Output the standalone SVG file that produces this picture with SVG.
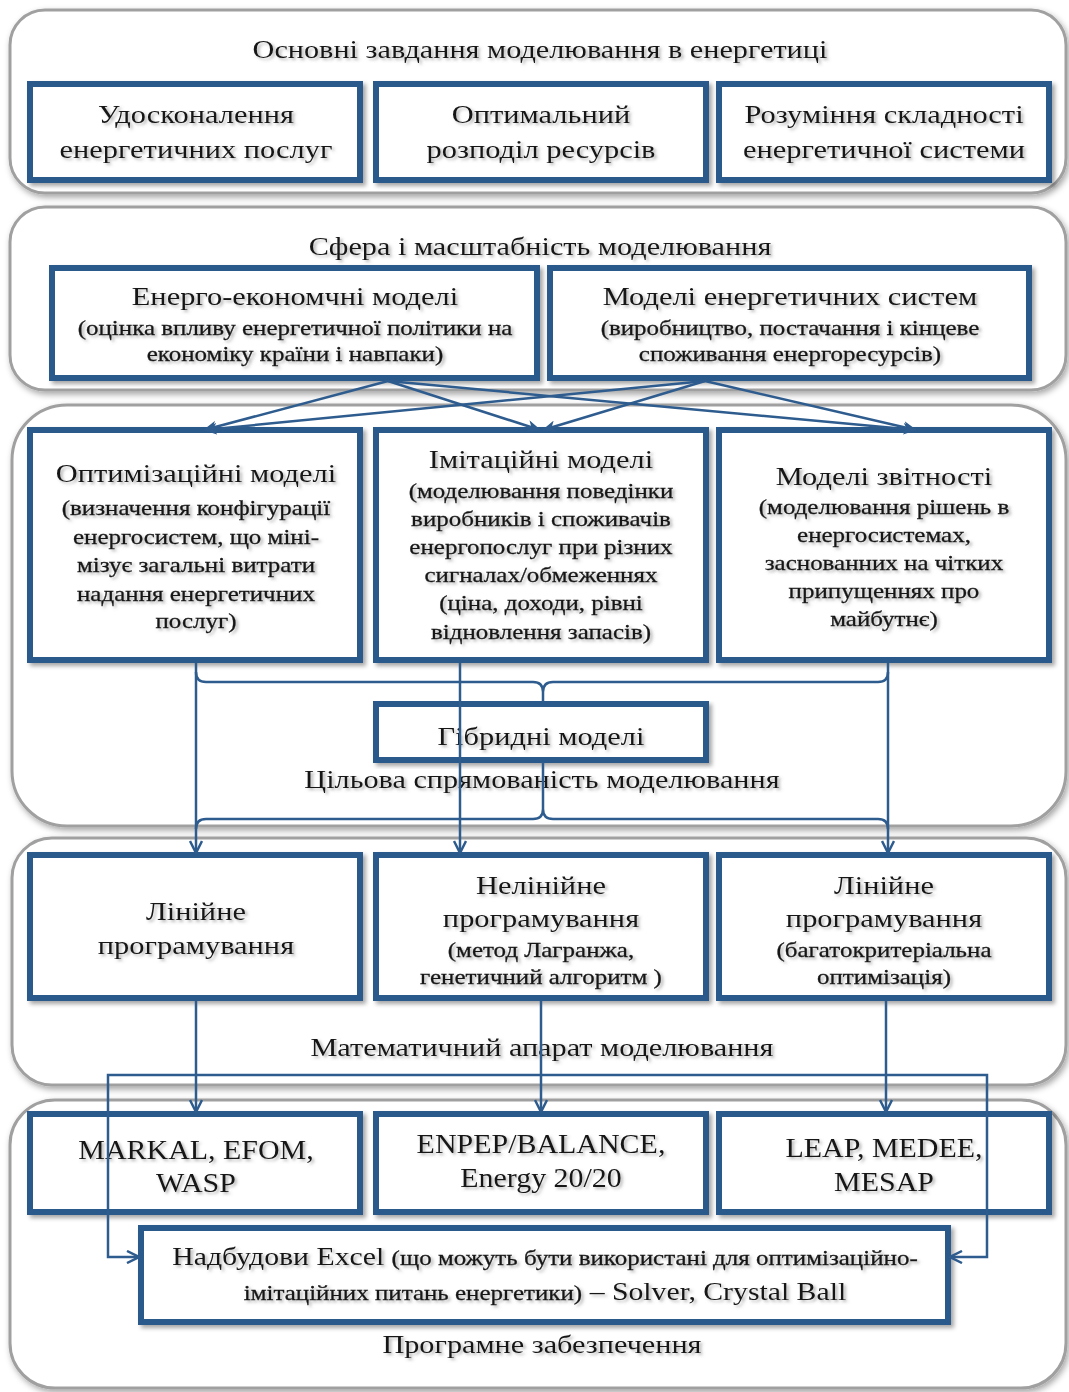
<svg xmlns="http://www.w3.org/2000/svg" width="1069" height="1392" viewBox="0 0 1069 1392">
<defs>
<filter id="psh" x="-5%" y="-5%" width="110%" height="115%"><feDropShadow dx="2" dy="3" stdDeviation="3" flood-color="#000" flood-opacity="0.35"/></filter>
<filter id="bsh" x="-5%" y="-5%" width="115%" height="120%"><feDropShadow dx="3" dy="3" stdDeviation="2" flood-color="#000" flood-opacity="0.35"/></filter>
<filter id="tsh" x="-5%" y="-30%" width="110%" height="160%"><feDropShadow dx="2" dy="2" stdDeviation="1.5" flood-color="#666" flood-opacity="0.5"/></filter>
<marker id="af" viewBox="0 0 14 12" refX="13" refY="6" markerWidth="14" markerHeight="12" markerUnits="userSpaceOnUse" orient="auto"><path d="M0,0 L14,6 L0,12 L4,6 z" fill="#2e5c8e"/></marker>
<marker id="ao" viewBox="0 0 14 14" refX="13" refY="7" markerWidth="14" markerHeight="14" markerUnits="userSpaceOnUse" orient="auto"><path d="M1,1 L13,7 L1,13" fill="none" stroke="#2e5c8e" stroke-width="2.5"/></marker>
</defs>
<style>
.panel{fill:#fff;stroke:#a0a0a0;stroke-width:3;filter:url(#psh)}
.box{fill:#fff;stroke:#2b5a8b;stroke-width:6;filter:url(#bsh)}
text{font-family:"Liberation Serif","Times New Roman",serif;fill:#151515;text-anchor:middle;filter:url(#tsh);transform-box:fill-box;transform-origin:center}
.h{font-size:26px;transform:scaleX(1.17)}
.s{font-size:21px;stroke:#151515;stroke-width:0.3;transform:scaleX(1.19)}
.p{font-size:28px;transform:scaleX(1.07)}
.t{font-size:25px;transform:scaleX(1.21)}
.x{transform:scaleX(1.19)}
.x .hs{font-size:25px}
.x .ss{font-size:21px;stroke:#151515;stroke-width:0.3}
.c{fill:none;stroke:#2e5c8e;stroke-width:2.5}
</style>
<rect width="1069" height="1392" fill="#fff"/>

<g id="panels">
<rect id="panel1" class="panel" x="10" y="10" width="1056" height="183" rx="35"/>
<rect id="panel2" class="panel" x="10" y="207" width="1056" height="183" rx="35"/>
<rect id="panel3" class="panel" x="12" y="405" width="1054" height="421" rx="55"/>
<rect id="panel4" class="panel" x="12" y="838" width="1054" height="247" rx="40"/>
<rect id="panel5" class="panel" x="10" y="1100" width="1056" height="288" rx="45"/>
</g>

<g id="titles">
<text class="t" x="540" y="58">Основні завдання моделювання в енергетиці</text>
<text class="t" x="540" y="255">Сфера і масштабність моделювання</text>
<text class="t" x="542" y="788">Цільова спрямованість моделювання</text>
<text class="t" x="542" y="1056">Математичний апарат моделювання</text>
<text class="t" x="542" y="1353">Програмне забезпечення</text>
</g>

<g id="node-a"><rect class="box" x="30" y="84" width="330" height="96"/>
<text class="h" x="196" y="123">Удосконалення</text><text class="h" x="196" y="158">енергетичних послуг</text></g>
<g id="node-b"><rect class="box" x="376" y="84" width="330" height="96"/>
<text class="h" x="541" y="123">Оптимальний</text><text class="h" x="541" y="158">розподіл ресурсів</text></g>
<g id="node-c"><rect class="box" x="719" y="84" width="330" height="96"/>
<text class="h" x="884" y="123">Розуміння складності</text><text class="h" x="884" y="158">енергетичної системи</text></g>

<g id="node-d"><rect class="box" x="52" y="268" width="485" height="110"/>
<text class="h" x="295" y="305">Енерго-економчні моделі</text>
<text class="s" x="295" y="335">(оцінка впливу енергетичної політики на</text>
<text class="s" x="295" y="361">економіку країни і навпаки)</text></g>
<g id="node-e"><rect class="box" x="550" y="268" width="479" height="110"/>
<text class="h" x="790" y="305">Моделі енергетичних систем</text>
<text class="s" x="790" y="335">(виробництво, постачання і кінцеве</text>
<text class="s" x="790" y="361">споживання енергоресурсів)</text></g>

<g id="node-f"><rect class="box" x="30" y="430" width="330" height="230"/>
<text class="h" x="196" y="482">Оптимізаційні моделі</text>
<text class="s" x="196" y="515">(визначення конфігурації</text>
<text class="s" x="196" y="544">енергосистем, що міні-</text>
<text class="s" x="196" y="572">мізує загальні витрати</text>
<text class="s" x="196" y="601">надання енергетичних</text>
<text class="s" x="196" y="628">послуг)</text></g>
<g id="node-g"><rect class="box" x="376" y="430" width="330" height="230"/>
<text class="h" x="541" y="468">Імітаційні моделі</text>
<text class="s" x="541" y="498">(моделювання поведінки</text>
<text class="s" x="541" y="526">виробників і споживачів</text>
<text class="s" x="541" y="554">енергопослуг при різних</text>
<text class="s" x="541" y="582">сигналах/обмеженнях</text>
<text class="s" x="541" y="610">(ціна, доходи, рівні</text>
<text class="s" x="541" y="639">відновлення запасів)</text></g>
<g id="node-h"><rect class="box" x="719" y="430" width="330" height="230"/>
<text class="h" x="884" y="485">Моделі звітності</text>
<text class="s" x="884" y="514">(моделювання рішень в</text>
<text class="s" x="884" y="542">енергосистемах,</text>
<text class="s" x="884" y="570">заснованних на чітких</text>
<text class="s" x="884" y="598">припущеннях про</text>
<text class="s" x="884" y="626">майбутнє)</text></g>

<g id="node-hybrid"><rect class="box" x="376" y="704" width="330" height="56"/>
<text class="h" x="541" y="745">Гібридні моделі</text></g>

<g id="node-i"><rect class="box" x="30" y="855" width="330" height="143"/>
<text class="h" x="196" y="920">Лінійне</text><text class="h" x="196" y="954">програмування</text></g>
<g id="node-j"><rect class="box" x="376" y="855" width="330" height="143"/>
<text class="h" x="541" y="894">Нелінійне</text><text class="h" x="541" y="927">програмування</text>
<text class="s" x="541" y="957">(метод Лагранжа,</text><text class="s" x="541" y="984">генетичний алгоритм )</text></g>
<g id="node-k"><rect class="box" x="719" y="855" width="330" height="143"/>
<text class="h" x="884" y="894">Лінійне</text><text class="h" x="884" y="927">програмування</text>
<text class="s" x="884" y="957">(багатокритеріальна</text><text class="s" x="884" y="984">оптимізація)</text></g>

<g id="node-l"><rect class="box" x="30" y="1114" width="330" height="98"/>
<text class="p" x="196" y="1159">MARKAL, EFOM,</text><text class="p" x="196" y="1192">WASP</text></g>
<g id="node-m"><rect class="box" x="376" y="1114" width="330" height="98"/>
<text class="p" x="541" y="1153">ENPEP/BALANCE,</text><text class="p" x="541" y="1187">Energy 20/20</text></g>
<g id="node-n"><rect class="box" x="719" y="1114" width="330" height="98"/>
<text class="p" x="884" y="1157">LEAP, MEDEE,</text><text class="p" x="884" y="1191">MESAP</text></g>

<g id="node-excel"><rect class="box" x="141" y="1228" width="807" height="94"/>
<text class="x" x="545" y="1265"><tspan class="hs">Надбудови Excel </tspan><tspan class="ss">(що можуть бути використані для оптимізаційно-</tspan></text>
<text class="x" x="545" y="1300"><tspan class="ss">імітаційних питань енергетики)</tspan><tspan class="hs"> – Solver, Crystal Ball</tspan></text></g>

<g id="connectors">
<line class="c" x1="388" y1="381" x2="204" y2="430" marker-end="url(#af)"/>
<line class="c" x1="388" y1="381" x2="540" y2="430" marker-end="url(#af)"/>
<line class="c" x1="388" y1="381" x2="916" y2="430" marker-end="url(#af)"/>
<line class="c" x1="705" y1="381" x2="204" y2="430" marker-end="url(#af)"/>
<line class="c" x1="705" y1="381" x2="543" y2="430" marker-end="url(#af)"/>
<line class="c" x1="705" y1="381" x2="916" y2="430" marker-end="url(#af)"/>

<path class="c" d="M196,663 V853" marker-end="url(#ao)"/>
<path class="c" d="M460,663 V853" marker-end="url(#ao)"/>
<path class="c" d="M888,663 V853" marker-end="url(#ao)"/>
<path class="c" d="M196,672 Q196,682 206,682 H533 Q543,682 543,692 V702 M543,692 Q543,682 553,682 H878 Q888,682 888,672"/>
<path class="c" d="M196,829 Q196,819 206,819 H533 Q543,819 543,809 V762 M543,809 Q543,819 553,819 H878 Q888,819 888,829"/>

<path class="c" d="M196,1001 V1112" marker-end="url(#ao)"/>
<path class="c" d="M541,1001 V1112" marker-end="url(#ao)"/>
<path class="c" d="M886,1001 V1112" marker-end="url(#ao)"/>
<path class="c" d="M541,1075 H108 V1257 H139" marker-end="url(#ao)"/>
<path class="c" d="M541,1075 H987 V1257 H950" marker-end="url(#ao)"/>
</g>
</svg>
